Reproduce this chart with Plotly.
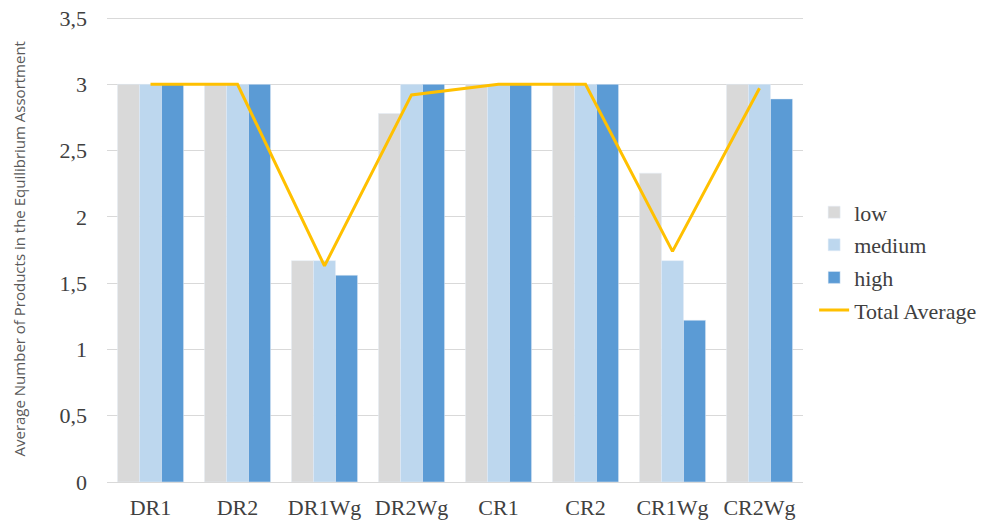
import plotly.graph_objects as go

categories = ["DR1", "DR2", "DR1Wg", "DR2Wg", "CR1", "CR2", "CR1Wg", "CR2Wg"]
low = [3, 3, 1.67, 2.78, 3, 3, 2.33, 3]
medium = [3, 3, 1.67, 3, 3, 3, 1.67, 3]
high = [3, 3, 1.56, 3, 3, 3, 1.22, 2.89]
total_average = [3, 3, 1.63, 2.92, 3, 3, 1.74, 2.97]
y_ticks = [0, 0.5, 1, 1.5, 2, 2.5, 3, 3.5]
y_tick_labels = ["0", "0,5", "1", "1,5", "2", "2,5", "3", "3,5"]

fig = go.Figure()
fig.add_trace(go.Bar(name="low", x=categories, y=low, marker_color="#D9D9D9", legendgroup="a"))
fig.add_trace(go.Bar(name="medium", x=categories, y=medium, marker_color="#BDD7EE", legendgroup="b"))
fig.add_trace(go.Bar(name="high", x=categories, y=high, marker_color="#5B9BD5", legendgroup="c"))
fig.add_trace(go.Scatter(name="Total Average", x=categories, y=total_average, legendgroup="d",
                         mode="lines", line=dict(color="#FFC000", width=3)))

serif = "Liberation Serif, Times New Roman, serif"
W, H = 981, 517
L, T, PW, PH = 99, 9, 696, 465
fig.update_layout(
    width=W, height=H,
    margin=dict(l=L, r=W - L - PW, t=T, b=H - T - PH, autoexpand=False),
    plot_bgcolor="white", paper_bgcolor="white",
    barmode="group", bargap=0.24, bargroupgap=0,
    font=dict(family=serif, color="#404040", size=22),
    legend=dict(x=1.016, y=0.625, xanchor="left", yanchor="top",
                font=dict(family=serif, size=22, color="#404040"),
                itemwidth=30, tracegroupgap=1, bgcolor="rgba(0,0,0,0)"),
    xaxis=dict(showgrid=False, showline=True, linecolor="#D9D9D9", linewidth=1,
               ticks="", automargin=False,
               tickfont=dict(family=serif, size=22, color="#404040"),
               ticklabelstandoff=6),
    yaxis=dict(range=[0, 3.508], tickvals=y_ticks, ticktext=y_tick_labels,
               showgrid=True, gridcolor="#D9D9D9", gridwidth=1, zeroline=False,
               showline=False, ticks="", ticklabelstandoff=19, automargin=False,
               ticklabeloverflow="allow",
               tickfont=dict(family=serif, size=22, color="#404040")),
    annotations=[dict(text="Average Number of Products in the Equilibrium Assortment",
                      textangle=-90, xref="paper", yref="paper",
                      x=(10 - L) / PW, y=0.5,
                      xanchor="center", yanchor="middle", showarrow=False,
                      font=dict(family="Open Sans, Liberation Sans, sans-serif", size=15, color="#595959"))],
)

fig.write_html("out.html")
